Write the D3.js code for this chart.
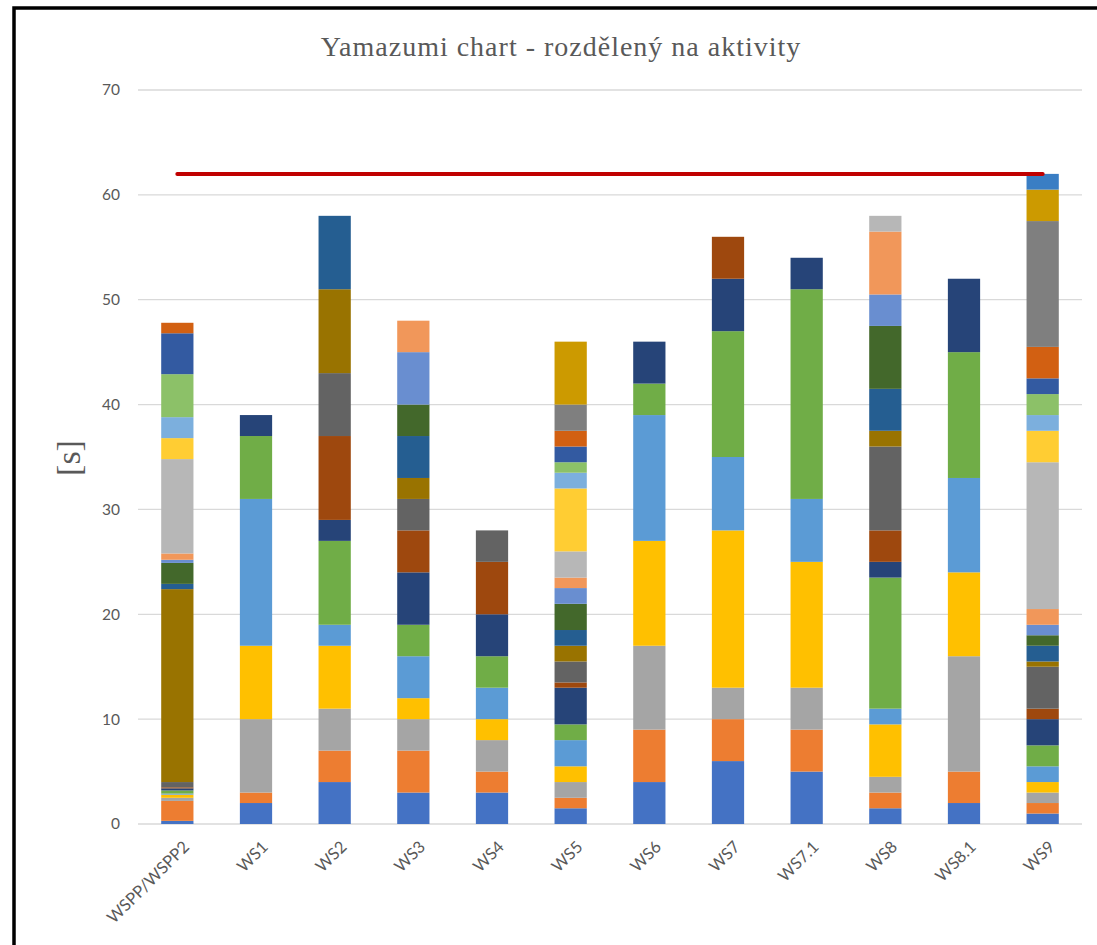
<!DOCTYPE html>
<html>
<head>
<meta charset="utf-8">
<script src="https://cdn.jsdelivr.net/npm/d3@7"></script>
<style>
  body { margin: 0; background: #fff; }
  svg { display: block; }
</style>
</head>
<body>
<div id="chart"></div>
<script>
// stations on the x axis
const stations = ["WSPP/WSPP2","WS1","WS2","WS3","WS4","WS5","WS6","WS7","WS7.1","WS8","WS8.1","WS9"];

// activity times per station [s], bottom to top (index = activity)
const wspp = [0.3,1.9,0.3,0.3,0.1,0.3,0.2,0.1,0.5,18.4,0.5,2.0,0.3,0.6,9.0,2,2,4.1,3.9,1.0];
const ws1  = [2,1,7,7,14,6,2];
const ws2  = [4,3,4,6,2,8,2,8,6,8,7];
const ws3  = [3,4,3,2,4,3,5,4,3,2,4,3,5,3];
const ws4  = [3,2,3,2,3,3,4,5,3];
const ws5  = [1.5,1,1.5,1.5,2.5,1.5,3.5,0.5,2,1.5,1.5,2.5,1.5,1,2.5,6,1.5,1,1.5,1.5,2.5,6];
const ws6  = [4,5,8,10,12,3,4];
const ws7  = [6,4,3,15,7,12,5,4];
const ws71 = [5,4,4,12,6,20,3];
const ws8  = [1.5,1.5,1.5,5,1.5,12.5,1.5,3,8,1.5,4,6,3,6,1.5];
const ws81 = [2,3,11,8,9,12,7];
const ws9  = [1,1,1,1,1.5,2,2.5,1,4,0.5,1.5,1,1,1.5,14,3,1.5,2,1.5,3,12,3,1.5];

const stationTimes = [wspp, ws1, ws2, ws3, ws4, ws5, ws6, ws7, ws71, ws8, ws81, ws9];

// takt time line
const taktTime = 62;

// y ticks
const yTicks = [0,10,20,30,40,50,60,70];

// Excel-like series palette
const activityColors = [
  "#4472C4","#ED7D31","#A5A5A5","#FFC000","#5B9BD5","#70AD47",
  "#264478","#9E480E","#636363","#997300","#255E91","#43682B",
  "#698ED0","#F1975A","#B7B7B7","#FFCD33","#7CAFDD","#8CC168",
  "#335AA1","#D26012","#7F7F7F","#CC9A00","#3A7EC4"
];

const W = 1097, H = 945;
const margin = {top: 90, right: 15, bottom: 121, left: 138};
const nAct = d3.max(stationTimes, d => d.length);

// build rows for d3.stack
let rows = stations.map((s, i) => {
  let row = {station: s};
  for (let k = 0; k < nAct; k++) row[k] = stationTimes[i][k] || 0;
  return row;
});
const series = d3.stack().keys(d3.range(nAct))(rows);

const svg = d3.select("#chart").append("svg")
  .attr("width", W)
  .attr("height", H);

svg.append("rect").attr("width", W).attr("height", H).attr("fill", "#fff");

// frame
svg.append("rect")
  .attr("x", 14).attr("y", 8)
  .attr("width", W + 20).attr("height", H + 20)
  .attr("fill", "none")
  .attr("stroke", "#000")
  .attr("stroke-width", 3.5);

const x = d3.scaleBand()
  .domain(stations)
  .range([margin.left, W - margin.right])
  .paddingInner(0.59)
  .paddingOuter(0.295);

const y = d3.scaleLinear()
  .domain([0, 70])
  .range([H - margin.bottom, margin.top]);

// gridlines
svg.append("g")
  .selectAll("line")
  .data(yTicks)
  .join("line")
    .attr("x1", margin.left)
    .attr("x2", W - margin.right)
    .attr("y1", d => y(d))
    .attr("y2", d => y(d))
    .attr("stroke", "#D9D9D9")
    .attr("stroke-width", 1.3);

// y axis labels
const yAxis = svg.append("g")
  .attr("transform", `translate(${margin.left - 18},0)`)
  .call(d3.axisLeft(y).tickValues(yTicks).tickSize(0).tickPadding(0));
yAxis.select(".domain").remove();
yAxis.selectAll("text")
  .attr("font-family", "Lato, 'Open Sans', sans-serif")
  .attr("font-size", 15.5)
  .attr("fill", "#595959");

// stacked bars
svg.append("g")
  .selectAll("g")
  .data(series)
  .join("g")
    .attr("fill", (d, i) => activityColors[i % activityColors.length])
  .selectAll("rect")
  .data(d => d)
  .join("rect")
    .attr("x", d => x(d.data.station))
    .attr("y", d => y(d[1]))
    .attr("width", x.bandwidth())
    .attr("height", d => Math.max(0, y(d[0]) - y(d[1])));

// x axis labels
const xAxis = svg.append("g")
  .attr("transform", `translate(0,${H - margin.bottom})`)
  .call(d3.axisBottom(x).tickSize(0).tickPadding(0));
xAxis.select(".domain").remove();
xAxis.selectAll("text")
  .attr("font-family", "Lato, 'Open Sans', sans-serif")
  .attr("font-size", 16.5)
  .attr("fill", "#595959")
  .attr("text-anchor", "end")
  .attr("dy", null)
  .attr("y", 0)
  .attr("transform", "translate(13,24) rotate(-45)");

// takt time line
svg.append("line")
  .attr("x1", x(stations[0]) + x.bandwidth() / 2)
  .attr("x2", x(stations[stations.length - 1]) + x.bandwidth() / 2)
  .attr("y1", y(taktTime))
  .attr("y2", y(taktTime))
  .attr("stroke", "#C00000")
  .attr("stroke-width", 4)
  .attr("stroke-linecap", "round");

// title
svg.append("text")
  .attr("x", 561)
  .attr("y", 56)
  .attr("text-anchor", "middle")
  .attr("font-family", "'Liberation Serif', serif")
  .attr("font-size", 28)
  .attr("letter-spacing", 1)
  .attr("fill", "#595959")
  .text("Yamazumi chart - rozdělený na aktivity");

// y axis title
svg.append("text")
  .attr("transform", "translate(80,458) rotate(-90)")
  .attr("text-anchor", "middle")
  .attr("font-family", "'Liberation Serif', serif")
  .attr("font-size", 34)
  .attr("fill", "#595959")
  .text("[s]");
</script>
</body>
</html>
